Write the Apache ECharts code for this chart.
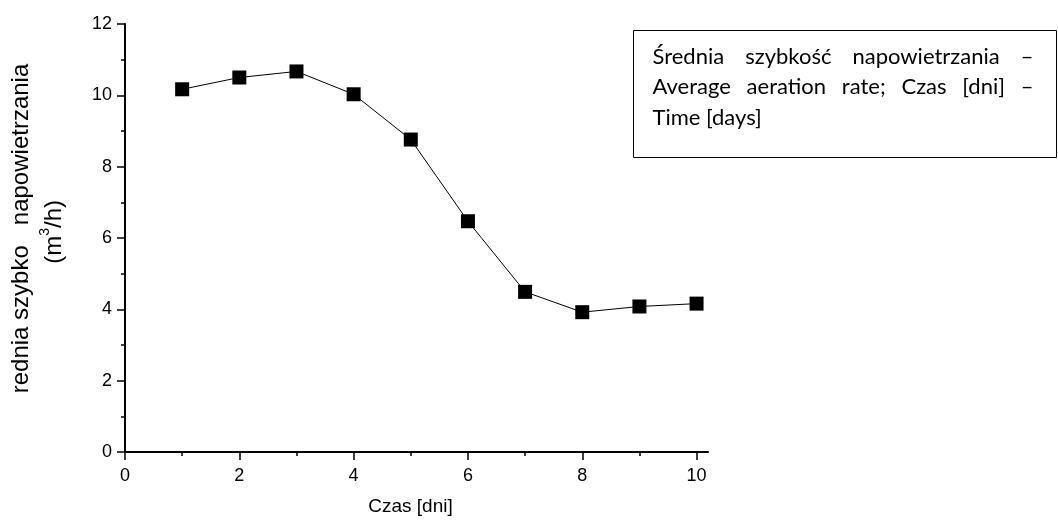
<!DOCTYPE html>
<html><head><meta charset="utf-8">
<script src="https://cdn.jsdelivr.net/npm/echarts@6/dist/echarts.min.js"></script>
<style>html,body{margin:0;padding:0;background:#fff}#c{width:1058px;height:524px}</style>
</head><body><div id="c"></div>
<script>
const days = [1, 2, 3, 4, 5, 6, 7, 8, 9, 10];
const aeration = [10.17, 10.50, 10.67, 10.03, 8.76, 6.47, 4.49, 3.92, 4.08, 4.16];
const xMajorTicks = [0, 2, 4, 6, 8, 10];
const xMinorTicks = [1, 3, 5, 7, 9];
const yAxisTitle = 'rednia szybko   napowietrzania\n(m{sup|3}/h) ';
const xAxisTitle = 'Czas [dni]';
const noteLines = ['Średnia szybkość napowietrzania –', 'Average aeration rate; Czas [dni] –', 'Time [days]'];

const FONT = 'Liberation Sans, Arial, sans-serif';
const NOTE_FAMILY = 'Lato';
const NOTE_SIZE = 22;

const noteX = 19, noteY = 15, noteW = 381, noteLH = 30.5;
const ctx = document.createElement('canvas').getContext('2d');
ctx.font = NOTE_SIZE + 'px ' + NOTE_FAMILY;
const noteChildren = [];
noteLines.forEach((line, li) => {
  const y = noteY + li * noteLH;
  const tstyle = (t) => ({text: t, fontSize: NOTE_SIZE, fontFamily: NOTE_FAMILY, fill: '#000'});
  if (li === noteLines.length - 1) {
    noteChildren.push({type: 'text', x: noteX, y: y, style: tstyle(line)});
    return;
  }
  const words = line.split(' ');
  const widths = words.map(w => ctx.measureText(w).width);
  const total = widths.reduce((a, b) => a + b, 0);
  const gap = (noteW - total) / (words.length - 1);
  let x = noteX;
  words.forEach((w, wi) => {
    noteChildren.push({type: 'text', x: x, y: y, style: tstyle(w)});
    x += widths[wi] + gap;
  });
});

const chart = echarts.init(document.getElementById('c'), null, {renderer: 'canvas'});
chart.setOption({
  animation: false,
  backgroundColor: '#fff',
  grid: {left: 125, top: 24, width: 583, height: 428, containLabel: false, outerBoundsMode: 'none'},
  xAxis: [{
    type: 'value', min: 0, max: 10.2,
    name: xAxisTitle, nameLocation: 'middle', nameGap: 45,
    nameTextStyle: {fontFamily: FONT, fontSize: 19, color: '#000', padding: [0, 12, 0, 0]},
    axisLine: {lineStyle: {color: '#000', width: 2}},
    axisTick: {show: true, inside: false, length: 8, lineStyle: {color: '#000', width: 1.5}, customValues: xMajorTicks},
    axisLabel: {fontFamily: FONT, fontSize: 18, color: '#000', margin: 15, customValues: xMajorTicks},
    splitLine: {show: false}
  }, {
    type: 'value', min: 0, max: 10.2, position: 'bottom',
    axisLine: {show: false},
    axisTick: {show: true, length: 4, lineStyle: {color: '#000', width: 1.5}, customValues: xMinorTicks},
    axisLabel: {show: false},
    splitLine: {show: false}
  }],
  yAxis: {
    type: 'value', min: 0, max: 12, interval: 2,
    name: yAxisTitle, nameLocation: 'middle', nameGap: 54, nameRotate: 90,
    nameTextStyle: {fontFamily: FONT, fontSize: 24, color: '#000', lineHeight: 33, padding: [0, 0, 0, 19],
      rich: {sup: {fontFamily: FONT, fontSize: 14, color: '#000', verticalAlign: 'top', lineHeight: 33, padding: [0, 0, 10, 0]}}},
    axisLine: {show: true, lineStyle: {color: '#000', width: 2}},
    axisTick: {show: true, length: 8, lineStyle: {color: '#000', width: 1.5}},
    minorTick: {show: true, splitNumber: 2, length: 4, lineStyle: {color: '#000', width: 1.5}},
    axisLabel: {fontFamily: FONT, fontSize: 18, color: '#000', margin: 13},
    splitLine: {show: false}
  },
  series: [{
    type: 'line',
    data: days.map((d, i) => [d, aeration[i]]),
    symbol: 'rect', symbolSize: 14,
    itemStyle: {color: '#000'},
    lineStyle: {color: '#000', width: 1},
    z: 3
  }],
  graphic: [{
    type: 'group', left: 633, top: 30,
    children: [
      {type: 'rect', shape: {x: 0, y: 0, width: 423, height: 127}, style: {fill: '#fff', stroke: '#000', lineWidth: 1}}
    ].concat(noteChildren)
  }]
});
</script></body></html>
